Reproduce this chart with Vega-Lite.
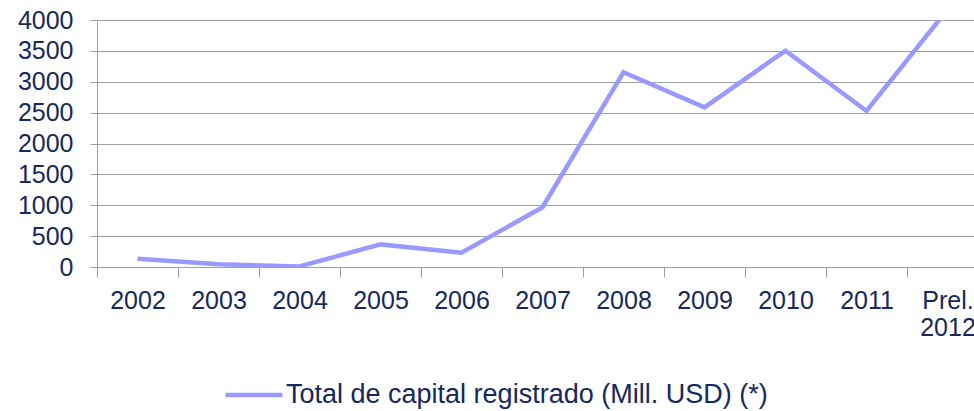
{
  "$schema": "https://vega.github.io/schema/vega-lite/v6.json",
  "width": 877,
  "height": 247,
  "autosize": {"type": "none"},
  "padding": {"left": 97, "top": 20, "right": 0, "bottom": 144},
  "background": "white",
  "data": {
    "values": [
      {"year": "2002", "value": 135, "serie": "Total de capital registrado (Mill. USD) (*)"},
      {"year": "2003", "value": 45, "serie": "Total de capital registrado (Mill. USD) (*)"},
      {"year": "2004", "value": 10, "serie": "Total de capital registrado (Mill. USD) (*)"},
      {"year": "2005", "value": 366, "serie": "Total de capital registrado (Mill. USD) (*)"},
      {"year": "2006", "value": 232, "serie": "Total de capital registrado (Mill. USD) (*)"},
      {"year": "2007", "value": 968, "serie": "Total de capital registrado (Mill. USD) (*)"},
      {"year": "2008", "value": 3153, "serie": "Total de capital registrado (Mill. USD) (*)"},
      {"year": "2009", "value": 2586, "serie": "Total de capital registrado (Mill. USD) (*)"},
      {"year": "2010", "value": 3503, "serie": "Total de capital registrado (Mill. USD) (*)"},
      {"year": "2011", "value": 2526, "serie": "Total de capital registrado (Mill. USD) (*)"},
      {"year": "Prel. 2012", "value": 4170, "serie": "Total de capital registrado (Mill. USD) (*)"}
    ]
  },
  "mark": {"type": "line", "clip": true, "strokeWidth": 4.5, "strokeJoin": "miter"},
  "encoding": {
    "x": {
      "field": "year",
      "type": "ordinal",
      "sort": null,
      "scale": {"type": "band", "range": [0, 891], "paddingInner": 0, "paddingOuter": 0},
      "axis": {
        "title": null,
        "labelAngle": 0,
        "labelExpr": "split(datum.label, ' ')",
        "labelLineHeight": 27,
        "labelFont": "Liberation Sans",
        "labelFontSize": 25,
        "labelColor": "#17285C",
        "labelBaseline": "top",
        "labelPadding": 11,
        "tickBand": "extent",
        "tickSize": 10,
        "tickColor": "#A0A0A0",
        "domainColor": "#A0A0A0",
        "grid": false,
        "labelOverlap": false
      }
    },
    "y": {
      "field": "value",
      "type": "quantitative",
      "scale": {"domain": [0, 4000], "nice": false, "zero": true},
      "axis": {
        "title": null,
        "values": [0, 500, 1000, 1500, 2000, 2500, 3000, 3500, 4000],
        "format": "d",
        "labelFont": "Liberation Sans",
        "labelFontSize": 25,
        "labelColor": "#17285C",
        "labelPadding": 17,
        "tickSize": 7,
        "tickColor": "#A0A0A0",
        "domainColor": "#A0A0A0",
        "grid": true,
        "gridColor": "#A0A0A0",
        "gridWidth": 1
      }
    },
    "color": {
      "field": "serie",
      "type": "nominal",
      "scale": {"range": ["#9999FF"]},
      "legend": {
        "title": null,
        "orient": "none",
        "legendX": 126,
        "legendY": 344,
        "padding": 0,
        "symbolType": "stroke",
        "symbolSize": 3249,
        "symbolStrokeWidth": 4.5,
        "labelFont": "Liberation Sans",
        "labelFontSize": 27,
        "labelColor": "#17285C",
        "labelOffset": 1,
        "labelLimit": 0
      }
    }
  },
  "config": {
    "view": {"stroke": null},
    "axis": {"ticks": true}
  }
}
